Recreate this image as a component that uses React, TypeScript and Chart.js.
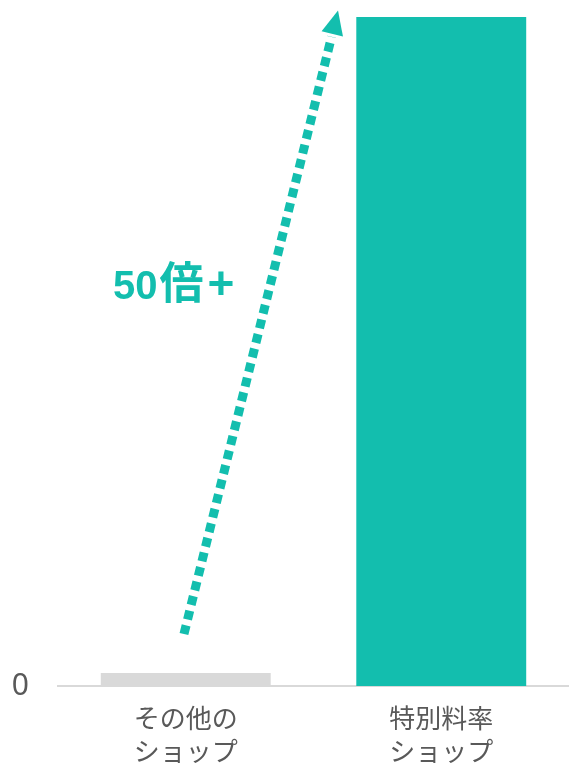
import React, { useEffect, useRef } from "react";
import { Chart, registerables } from "chart.js";

Chart.register(...registerables);

// Shop categories (each label on two lines)
const categories: string[][] = [
  ["その他の", "ショップ"],
  ["特別料率", "ショップ"],
];
// Relative values for each shop type
const values: number[] = [1.0, 51.5];
const barColors: string[] = ["#D9D9D9", "#13BEAE"];
// Only the zero tick is labelled
const yTicks: number[] = [0];

// Dotted growth arrow, in data units: [category index, value]
const arrowStart: [number, number] = [-0.007, 4.0];
const arrowEnd: [number, number] = [0.596, 52.0];
// Label anchor (left edge, baseline), in data units
const labelAnchor: [number, number] = [-0.285, 29.8];
const labelNumber = "50";
const labelUnit = "倍";
const labelPlus = "+";

const TEAL = "#13BEAE";

const arrowPlugin = {
  id: "growthArrow",
  afterDatasetsDraw(chart: any) {
    const { ctx, scales } = chart;
    const xs = scales.x;
    const ys = scales.y;
    const x0 = xs.getPixelForValue(arrowStart[0]);
    const y0 = ys.getPixelForValue(arrowStart[1]);
    const x1 = xs.getPixelForValue(arrowEnd[0]);
    const y1 = ys.getPixelForValue(arrowEnd[1]);
    const ang = Math.atan2(y1 - y0, x1 - x0);
    const headLen = 24;
    const headHalf = 11;
    const bx = x1 - Math.cos(ang) * headLen;
    const by = y1 - Math.sin(ang) * headLen;

    ctx.save();
    // dotted shaft
    ctx.strokeStyle = TEAL;
    ctx.lineWidth = 9;
    ctx.lineCap = "butt";
    ctx.setLineDash([9, 6]);
    ctx.beginPath();
    ctx.moveTo(x0, y0);
    ctx.lineTo(bx - Math.cos(ang) * 3, by - Math.sin(ang) * 3);
    ctx.stroke();
    ctx.setLineDash([]);

    // arrow head
    ctx.fillStyle = TEAL;
    ctx.beginPath();
    ctx.moveTo(x1, y1);
    ctx.lineTo(bx + Math.sin(ang) * headHalf, by - Math.cos(ang) * headHalf);
    ctx.lineTo(bx - Math.sin(ang) * headHalf, by + Math.cos(ang) * headHalf);
    ctx.closePath();
    ctx.fill();

    // label next to the arrow: number, unit and plus sign
    ctx.textAlign = "left";
    ctx.textBaseline = "alphabetic";
    let lx = xs.getPixelForValue(labelAnchor[0]);
    const ly = ys.getPixelForValue(labelAnchor[1]);
    ctx.font = "bold 40px 'Liberation Sans', sans-serif";
    ctx.fillText(labelNumber, lx, ly);
    lx += ctx.measureText(labelNumber).width + 2;
    ctx.font = "bold 44px 'Noto Sans CJK JP', sans-serif";
    ctx.fillText(labelUnit, lx, ly);
    lx += ctx.measureText(labelUnit).width + 4;
    ctx.font = "bold 46px 'Liberation Sans', sans-serif";
    ctx.fillText(labelPlus, lx, ly);
    ctx.restore();
  },
};

export default function App() {
  const canvasRef = useRef<HTMLCanvasElement | null>(null);

  useEffect(() => {
    if (!canvasRef.current) return;
    const chart = new Chart(canvasRef.current, {
      type: "bar",
      data: {
        labels: categories,
        datasets: [
          {
            data: values,
            backgroundColor: barColors,
            borderWidth: 0,
            barPercentage: 0.665,
            categoryPercentage: 1,
          },
        ],
      },
      options: {
        responsive: true,
        maintainAspectRatio: false,
        animation: false,
        layout: { padding: { top: 17, right: 0, bottom: 0, left: 0 } },
        plugins: {
          legend: { display: false },
          tooltip: { enabled: false },
        },
        scales: {
          x: {
            afterFit: (scale: any) => {
              scale.height = 80;
              scale.paddingLeft = 0;
              scale.paddingRight = 0;
            },
            grid: { display: false, drawTicks: false },
            border: { display: true, color: "#D9D9D9", width: 2 },
            ticks: {
              color: "#595959",
              padding: 16,
              maxRotation: 0,
              font: { size: 26, family: "'Noto Sans CJK JP', sans-serif", lineHeight: 1.25 },
            },
          },
          y: {
            min: 0,
            max: values[1],
            afterFit: (scale: any) => {
              scale.width = 58;
              scale.paddingTop = 0;
              scale.paddingBottom = 0;
            },
            afterBuildTicks: (scale: any) => {
              scale.ticks = yTicks.map((v) => ({ value: v }));
            },
            grid: { display: false, drawTicks: false },
            border: { display: false },
            ticks: {
              color: "#595959",
              padding: 29,
              font: { size: 30, family: "'Noto Sans', sans-serif" },
            },
          },
        },
      },
      plugins: [arrowPlugin],
    });
    return () => chart.destroy();
  }, []);

  return (
    <div style={{ position: "absolute", left: 0, top: 0, width: 569, height: 766 }}>
      <canvas ref={canvasRef} />
    </div>
  );
}
